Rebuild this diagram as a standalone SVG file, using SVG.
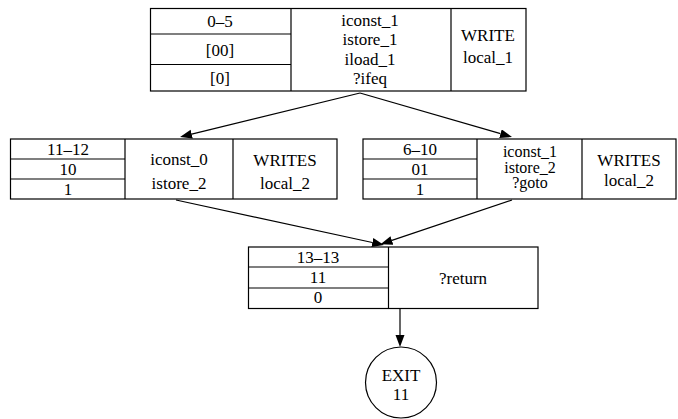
<svg xmlns="http://www.w3.org/2000/svg" width="678" height="419" viewBox="0 0 678 419">
<style>
  .box { fill: none; stroke: #000; stroke-width: 1.2; }
  .ln { stroke: #000; stroke-width: 1.2; fill: none; }
  .t { font-size: 17px; fill: #000; text-anchor: middle; }
  .tight { font-size: 16px; }
</style>
<defs>
  <marker id="arr" markerUnits="userSpaceOnUse" markerWidth="13" markerHeight="10" refX="0" refY="4.5" orient="auto">
    <path d="M0,0 L12,4.5 L0,9 z" fill="#000"/>
  </marker>
</defs>
<rect width="678" height="419" fill="#fff"/>

<g id="edges">
  <path class="ln" d="M360,93 L191.7,134.2" marker-end="url(#arr)"/>
  <path class="ln" d="M360,93 L500.5,133.7" marker-end="url(#arr)"/>
  <path class="ln" d="M176,200 L372.3,242.5" marker-end="url(#arr)"/>
  <path class="ln" d="M512,200 L391.9,240.4" marker-end="url(#arr)"/>
  <path class="ln" d="M400,309 L400,335" marker-end="url(#arr)"/>
</g>

<g class="t" font-family="'Liberation Serif', serif">
<g id="node_0_5">
  <rect class="box" x="150.5" y="8.5" width="375.5" height="82.5"/>
  <path class="ln" d="M291,8.5 V91 M451,8.5 V91 M150.5,34 H291 M150.5,64.5 H291"/>
  <text x="220" y="27">0–5</text>
  <text x="220" y="55.5">[00]</text>
  <text x="220" y="83.5">[0]</text>
  <text x="370" y="26">iconst_1</text>
  <text x="370" y="45">istore_1</text>
  <text x="370" y="64.5">iload_1</text>
  <text x="370" y="84">?ifeq</text>
  <text x="488" y="41">WRITE</text>
  <text x="488" y="63">local_1</text>
</g>

<g id="node_11_12">
  <rect class="box" x="10.5" y="139" width="326.5" height="60"/>
  <path class="ln" d="M125,139 V199 M233,139 V199 M10.5,159 H125 M10.5,179 H125"/>
  <text x="68" y="155">11–12</text>
  <text x="68" y="174.5">10</text>
  <text x="68" y="194.5">1</text>
  <text x="179" y="165">iconst_0</text>
  <text x="179" y="189">istore_2</text>
  <text x="285" y="166">WRITES</text>
  <text x="285" y="189">local_2</text>
</g>

<g id="node_6_10">
  <rect class="box" x="363" y="139" width="313" height="60"/>
  <path class="ln" d="M477,139 V199 M582,139 V199 M363,159 H477 M363,179 H477"/>
  <text x="420" y="155">6–10</text>
  <text x="420" y="174.5">01</text>
  <text x="420" y="194.5">1</text>
  <text class="tight" x="530" y="157">iconst_1</text>
  <text class="tight" x="530" y="172.5">istore_2</text>
  <text class="tight" x="530" y="188">?goto</text>
  <text x="629" y="166">WRITES</text>
  <text x="629" y="186">local_2</text>
</g>

<g id="node_13_13">
  <rect class="box" x="248.5" y="247" width="289.5" height="61.5"/>
  <path class="ln" d="M388.5,247 V308.5 M248.5,267 H388.5 M248.5,288 H388.5"/>
  <text x="318" y="262.5">13–13</text>
  <text x="318" y="282.5">11</text>
  <text x="318" y="303">0</text>
  <text x="463" y="284">?return</text>
</g>

<g id="node_exit">
  <circle class="box" cx="401" cy="382.5" r="35.5"/>
  <text x="401" y="381">EXIT</text>
  <text x="401" y="400">11</text>
</g>
</g>
</svg>
